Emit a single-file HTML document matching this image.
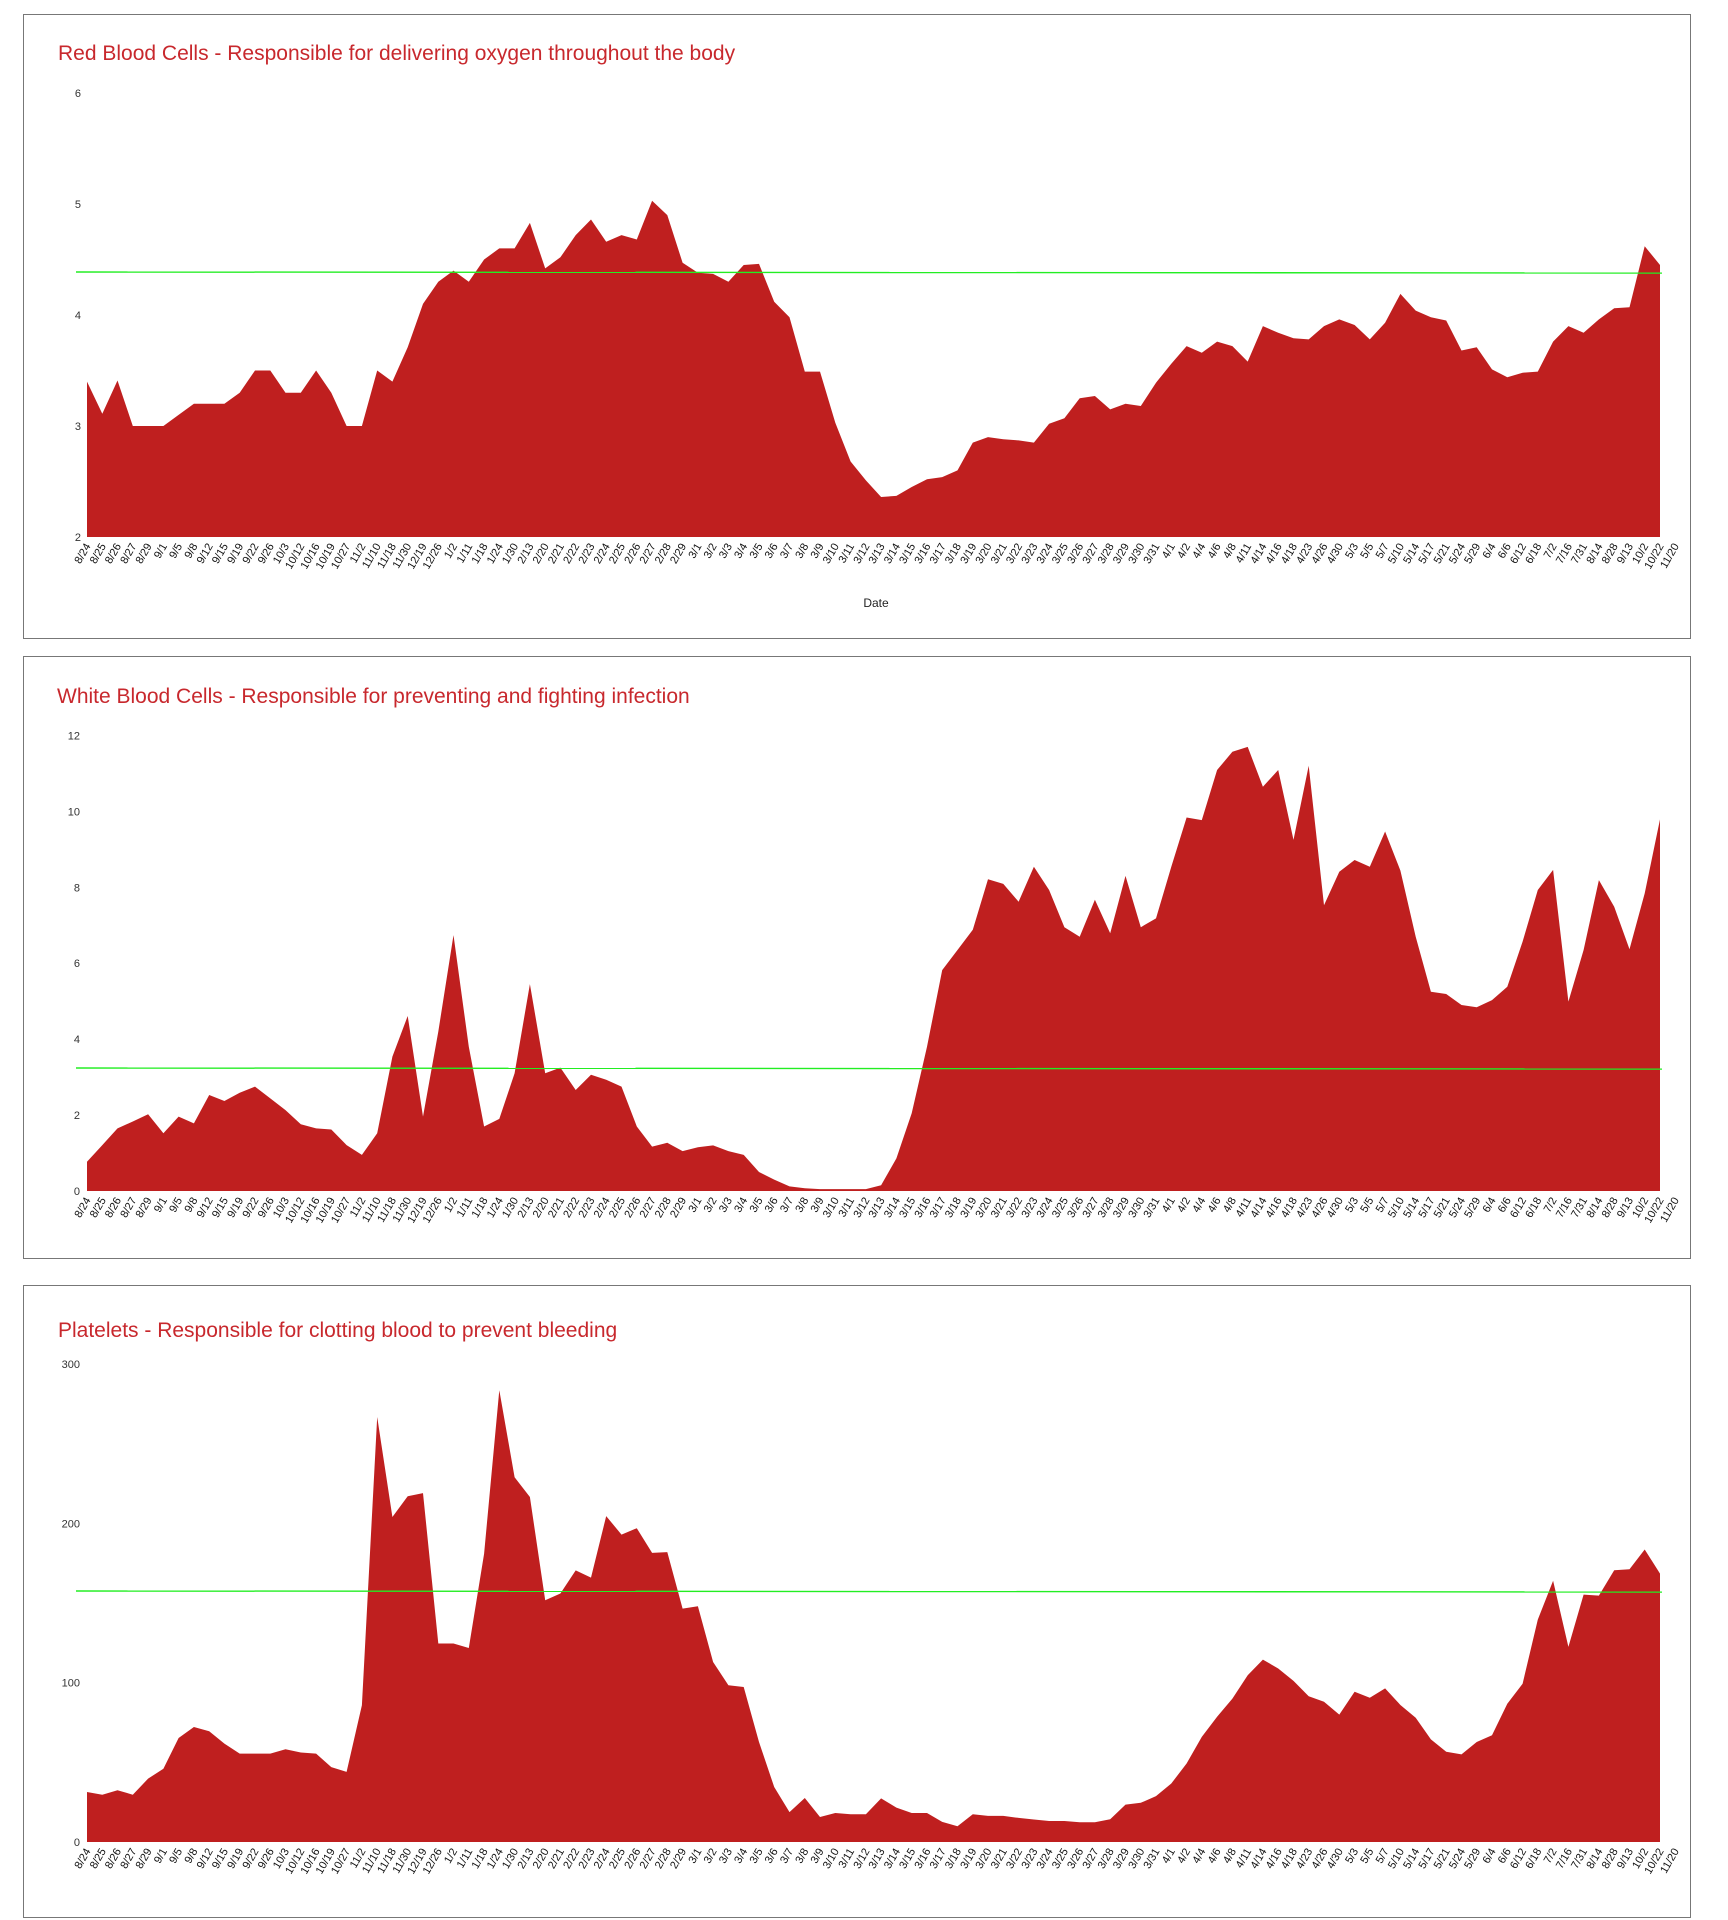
<!DOCTYPE html>
<html><head><meta charset="utf-8">
<style>
html,body{margin:0;padding:0;background:#fff;}
body{width:1728px;height:1920px;position:relative;overflow:hidden;font-family:"Liberation Sans",Arial,sans-serif;}
.panel{position:absolute;left:23px;width:1668px;border:1.5px solid #777;box-sizing:border-box;background:#fff;}
.title{position:absolute;left:58px;font-size:21px;color:#c8282d;white-space:nowrap;}
svg{position:absolute;left:0;top:0;}
</style></head><body>
<div class="panel" style="top:14px;height:625px;"></div>
<div class="panel" style="top:656px;height:603px;"></div>
<div class="panel" style="top:1285px;height:633px;"></div>
<div class="title" style="top:42px;">Red Blood Cells - Responsible for delivering oxygen throughout the body</div>
<div class="title" style="top:685px;left:57px;">White Blood Cells - Responsible for preventing and fighting infection</div>
<div class="title" style="top:1319px;">Platelets - Responsible for clotting blood to prevent bleeding</div>
<svg id="s" width="1728" height="1920" xmlns="http://www.w3.org/2000/svg"></svg>
<script>
var dates=["8/24","8/25","8/26","8/27","8/29","9/1","9/5","9/8","9/12","9/15","9/19","9/22","9/26","10/3","10/12","10/16","10/19","10/27","11/2","11/10","11/18","11/30","12/19","12/26","1/2","1/11","1/18","1/24","1/30","2/13","2/20","2/21","2/22","2/23","2/24","2/25","2/26","2/27","2/28","2/29","3/1","3/2","3/3","3/4","3/5","3/6","3/7","3/8","3/9","3/10","3/11","3/12","3/13","3/14","3/15","3/16","3/17","3/18","3/19","3/20","3/21","3/22","3/23","3/24","3/25","3/26","3/27","3/28","3/29","3/30","3/31","4/1","4/2","4/4","4/6","4/8","4/11","4/14","4/16","4/18","4/23","4/26","4/30","5/3","5/5","5/7","5/10","5/14","5/17","5/21","5/24","5/29","6/4","6/6","6/12","6/18","7/2","7/16","7/31","8/14","8/28","9/13","10/2","10/22","11/20"];
var rbc=[3.40,3.11,3.41,3.0,3.0,3.0,3.1,3.2,3.2,3.2,3.3,3.5,3.5,3.3,3.3,3.5,3.3,3.0,3.0,3.5,3.4,3.71,4.1,4.3,4.4,4.3,4.5,4.6,4.6,4.83,4.42,4.52,4.72,4.86,4.66,4.72,4.68,5.03,4.9,4.47,4.38,4.37,4.3,4.45,4.46,4.12,3.98,3.49,3.49,3.03,2.68,2.51,2.36,2.37,2.45,2.52,2.54,2.6,2.85,2.90,2.88,2.87,2.85,3.02,3.07,3.25,3.27,3.15,3.2,3.18,3.39,3.56,3.72,3.66,3.76,3.72,3.58,3.90,3.84,3.79,3.78,3.90,3.96,3.91,3.78,3.93,4.19,4.04,3.98,3.95,3.68,3.71,3.51,3.44,3.48,3.49,3.76,3.90,3.84,3.96,4.06,4.07,4.62,4.45];
var wbc=[0.77,1.21,1.65,1.83,2.02,1.52,1.96,1.78,2.53,2.37,2.59,2.75,2.44,2.13,1.76,1.65,1.62,1.21,0.95,1.52,3.54,4.61,1.96,4.2,6.74,3.8,1.7,1.9,3.1,5.45,3.1,3.25,2.66,3.06,2.93,2.75,1.7,1.17,1.27,1.05,1.15,1.2,1.05,0.95,0.5,0.3,0.12,0.07,0.05,0.05,0.05,0.05,0.15,
0.86,2.05,3.8,5.82,6.35,6.88,8.21,8.09,7.62,8.54,7.93,6.95,6.7,7.67,6.79,8.3,6.95,7.18,8.54,9.84,9.77,11.09,11.57,11.7,10.65,11.09,9.25,11.2,7.53,8.41,8.72,8.54,9.47,8.44,6.7,5.25,5.19,4.9,4.84,5.03,5.38,6.57,7.93,8.46,4.99,6.35,8.19,7.49,6.37,7.84,9.79];
var plt=[31.4,29.7,32.5,29.7,39.8,46,65.3,72.2,69.5,61.8,55.5,55.5,55.5,58.2,56.2,55.5,47,44,85.8,266.8,204,217,219,124.6,124.6,121.8,181,283.6,229,216.6,151.7,156,170.5,166,204.6,193,197,181.5,182,146.5,148,113,98.4,97.3,62.8,34.5,18.8,27.6,15.7,18.2,17.4,17.4,27.4,
21.6,18.2,18.2,12.6,9.9,17.4,16.4,16.4,15.1,14.1,13.2,13.2,12.4,12.4,14.3,23.5,24.6,28.8,36.7,49.3,66,78.6,90,104.7,114.5,108.9,101.1,91.5,88,80,94.3,90.6,96.4,86,78,64.4,56.7,55,62.8,67,86.8,99.4,139.6,164,122.5,155.3,154.7,170.6,171.2,183.6,168.5];
var X0=87,DX=(1660-87)/103;
var h='';
function chart(data,base,f,ticks,tickLblX,green,dateLbl){
  var p='M'+X0+','+base;
  for(var i=0;i<data.length;i++){p+=' L'+(X0+DX*i).toFixed(1)+','+f(data[i]).toFixed(1);}
  p+=' L'+(X0+DX*(data.length-1)).toFixed(1)+','+base+' Z';
  h+='<path d="'+p+'" fill="#bf1f1f"/>';
  h+='<line x1="76" y1="'+green+'" x2="1662" y2="'+(green+1)+'" stroke="#22ee22" stroke-width="1.4"/>';
  for(var t=0;t<ticks.length;t++){
    h+='<text x="'+tickLblX+'" y="'+(f(ticks[t])+4)+'" font-size="11" fill="#333" text-anchor="end" font-family="Liberation Sans, sans-serif">'+ticks[t]+'</text>';
  }
  for(var i=0;i<dates.length;i++){
    var x=X0+DX*i+4;
    h+='<text transform="translate('+x.toFixed(1)+','+(base+9)+') rotate(-60)" font-size="11" fill="#111" text-anchor="end" font-family="Liberation Sans, sans-serif">'+dates[i]+'</text>';
  }
  if(dateLbl) h+='<text x="876" y="607" font-size="12" fill="#222" text-anchor="middle" font-family="Liberation Sans, sans-serif">Date</text>';
}
chart(rbc,537,function(v){return 537-(v-2)*111;},[2,3,4,5,6],81,272,true);
chart(wbc,1191,function(v){return 1191-v*37.96;},[0,2,4,6,8,10,12],80,1068,false);
chart(plt,1842,function(v){return 1842-v*1.593;},[0,100,200,300],80,1591,false);
document.getElementById('s').innerHTML=h;
</script>
</body></html>
